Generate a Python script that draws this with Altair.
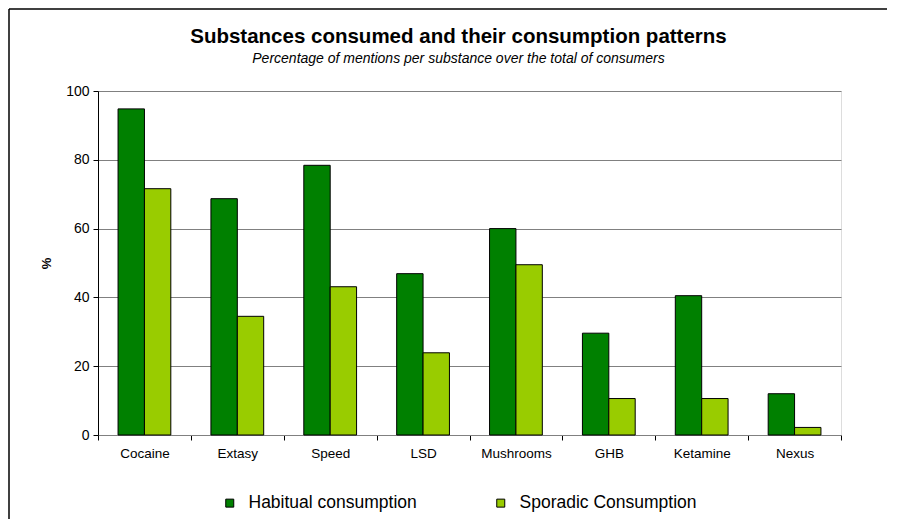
import altair as alt
import pandas as pd

categories = ["Cocaine", "Extasy", "Speed", "LSD", "Mushrooms", "GHB", "Ketamine", "Nexus"]
habitual = [94.8, 68.7, 78.4, 46.9, 60.0, 29.6, 40.5, 12.0]
sporadic = [71.6, 34.5, 43.1, 23.9, 49.5, 10.6, 10.6, 2.2]
series = ["Habitual consumption", "Sporadic Consumption"]
colors = ["#008000", "#99CC00"]
y_ticks = [0, 20, 40, 60, 80, 100]

rows = []
for c, h, s in zip(categories, habitual, sporadic):
    rows.append({"substance": c, "series": series[0], "value": h})
    rows.append({"substance": c, "series": series[1], "value": s})
df = pd.DataFrame(rows)

FONT = "Liberation Sans"

bars = alt.Chart(df).mark_bar(stroke="black", strokeWidth=1).encode(
    x=alt.X("substance:N", sort=categories,
            scale=alt.Scale(paddingInner=0, paddingOuter=0),
            axis=alt.Axis(title=None, labelAngle=0, tickBand="extent", tickSize=5,
                          tickColor="black", domainColor="#808080", labelPadding=6,
                          labelFontSize=13.5, labelColor="black", labelFont=FONT, grid=False)),
    xOffset=alt.XOffset("series:N", sort=series,
                        scale=alt.Scale(paddingInner=0, paddingOuter=0.76)),
    y=alt.Y("value:Q", scale=alt.Scale(domain=[0, 100], nice=False),
            axis=alt.Axis(title="%", values=y_ticks, tickSize=5, tickColor="black",
                          domainColor="black", gridColor="#808080", grid=True,
                          labelFontSize=14, labelColor="black", labelFont=FONT, labelPadding=4,
                          titleFont=FONT, titleFontSize=13, titleFontWeight="bold",
                          titleColor="black", titlePadding=12)),
    color=alt.Color("series:N", sort=series,
                    scale=alt.Scale(domain=series, range=colors),
                    legend=alt.Legend(title=None, orient="none", direction="horizontal",
                                      legendX=123, legendY=403, symbolType="square",
                                      symbolSize=64, symbolStrokeColor="black",
                                      symbolStrokeWidth=1, labelFontSize=17.5,
                                      labelFont=FONT, labelColor="black", labelOffset=10,
                                      labelLimit=400, columnPadding=75, padding=0)),
)

frame_df = pd.DataFrame({"f": [0]})
frame_top = alt.Chart(frame_df).mark_rule(color="#404040", strokeWidth=2).encode(
    x=alt.value(-89), x2=alt.value(789), y=alt.value(-82))
frame_left = alt.Chart(frame_df).mark_rule(color="black", strokeWidth=1.5).encode(
    x=alt.value(-89), y=alt.value(-82), y2=alt.value(429))

chart = alt.layer(bars, frame_top, frame_left).properties(
    width=743, height=344,
    autosize=alt.AutoSizeParams(type="none"),
    padding={"left": 90, "top": 83, "right": 54, "bottom": 84},
    title=alt.TitleParams(
        text="Substances consumed and their consumption patterns",
        subtitle="Percentage of mentions per substance over the total of consumers",
        anchor="middle", dx=-11, dy=58, font=FONT, fontSize=20.5, fontWeight="bold",
        color="black", subtitleFont=FONT, subtitleFontSize=14, subtitleFontStyle="italic",
        subtitleColor="black", subtitlePadding=5, offset=0),
).configure_view(stroke=None).configure(background="white")

chart.save("out.html", embed_options={"renderer": "svg", "actions": False})
